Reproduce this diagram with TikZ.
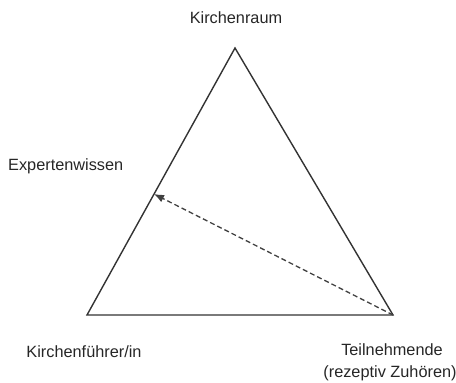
\documentclass[tikz,border=0pt]{standalone}
\usepackage{fontspec}
\setmainfont{Liberation Sans}
\usepackage{tikz}
\usetikzlibrary{arrows.meta, positioning, calc}

\tikzset{
    label/.style={font=\fontsize{16.3}{19}\selectfont, text=black!85, inner sep=0pt, align=center},
    edge/.style={line width=1.4pt, black!80},
    flow/.style={line width=1.3pt, black!75, dash pattern=on 5pt off 3pt, -{Latex[length=10pt, width=8pt]}}
}

\begin{document}
\begin{tikzpicture}[x=1pt, y=-1pt]
    \useasboundingbox (0,0) rectangle (456,383);
    % Triangle corners
    \coordinate (top) at (235,48);
    \coordinate (left) at (87,315);
    \coordinate (right) at (393,315);
    \coordinate (tip) at (154,194);

    % Triangle
    \draw[edge, line join=miter] (left) -- (top) -- (right) -- cycle;

    % Labels
    \node[label] (raum) at (236,18) {Kirchenraum};
    \node[label, anchor=west] (wissen) at (8,166) {Expertenwissen};
    \node[label] (fuehrer) at (84,352) {Kirchenführer/in};
    \node[label] (teiln) at (392,350) {Teilnehmende};
    \node[label] (rezept) at (390,373) {(rezeptiv Zuhören)};

    % Knowledge flow
    \draw[flow] (right) -- (tip);
\end{tikzpicture}
\end{document}
